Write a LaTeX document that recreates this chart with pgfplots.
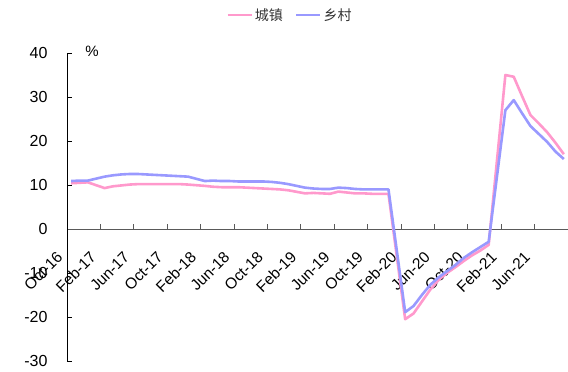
\documentclass[border=0pt]{standalone}
\usepackage{pgfplots}
\pgfplotsset{compat=1.18}
\usepackage{fontspec}
\setmainfont{Liberation Sans}
\newfontfamily\cjk{Noto Sans CJK SC}
\definecolor{pinkc}{HTML}{FF99CC}
\definecolor{bluec}{HTML}{9999FF}
\begin{document}
\begin{tikzpicture}
\begin{axis}[
 name=ax,
 scale only axis, width=501pt, height=308pt,
 xmin=-0.5, xmax=59.5, ymin=-30, ymax=40,
 axis y line=left, axis x line=middle,
 hide obscured x ticks=false, hide obscured y ticks=false,
 x axis line style={-, draw=black!65, line width=0.8pt},
 y axis line style={-, draw=black, line width=0.8pt},
 ytick={-30,-20,...,40},
 xtick={0,4,...,56},
 xticklabels={Oct-16,Feb-17,Jun-17,Oct-17,Feb-18,Jun-18,Oct-18,Feb-19,Jun-19,Oct-19,Feb-20,Jun-20,Oct-20,Feb-21,Jun-21},
 minor xtick={-0.5,3.5,...,59.5},
 major x tick style={draw=none},
 minor x tick style={draw=black!65, line width=0.8pt},
 y tick style={draw=black, line width=0.8pt},
 tick align=inside,
 major tick length=5pt, minor tick length=5pt,
 /pgf/number format/assume math mode=true,
 yticklabel style={font=\fontsize{16}{19}\selectfont, xshift=-16pt},
 xticklabel style={font=\fontsize{15.5}{18}\selectfont, xshift=-9pt, yshift=-23pt, rotate=45, anchor=east},
 legend style={at={(0.445,1.123)}, anchor=center, draw=none, fill=none, legend columns=2,
   font=\cjk\fontsize{14}{16}\selectfont, text=black!80,
   /tikz/every even column/.append style={column sep=10pt}},
 legend image code/.code={\draw[#1] (0pt,0pt) -- (24pt,0pt);},
 clip=false,
]
\addplot[pinkc, line width=2.6pt, line join=round] coordinates {
(0,10.4)(1,10.5)(2,10.6)(4,9.3)(5,9.7)(6,9.9)(7,10.1)(8,10.2)(9,10.2)(10,10.2)(11,10.2)(12,10.2)(13,10.2)(14,10.1)
(16,9.8)(17,9.6)(18,9.5)(19,9.5)(20,9.5)(21,9.4)(22,9.3)(23,9.2)(24,9.1)(25,9.0)(26,8.8)
(28,8.1)(29,8.2)(30,8.1)(31,8.0)(32,8.5)(33,8.3)(34,8.1)(35,8.1)(36,8.0)(37,8.0)(38,8.0)
(40,-20.5)(41,-19.2)(42,-16.5)(43,-13.8)(44,-11.6)(45,-10.0)(46,-8.7)(47,-7.3)(48,-6.0)(49,-4.9)(50,-3.6)
(52,35.0)(53,34.6)(54,30.2)(55,25.9)(56,24.0)(57,22.0)(58,19.6)(59,17.0)
};
\addlegendentry{城镇}
\addplot[bluec, line width=2.6pt, line join=round] coordinates {
(0,10.9)(1,11.0)(2,11.0)(4,11.9)(5,12.2)(6,12.4)(7,12.5)(8,12.5)(9,12.4)(10,12.3)(11,12.2)(12,12.1)(13,12.0)(14,11.9)
(16,10.9)(17,11.0)(18,10.9)(19,10.9)(20,10.8)(21,10.8)(22,10.8)(23,10.8)(24,10.7)(25,10.5)(26,10.2)
(28,9.4)(29,9.2)(30,9.1)(31,9.1)(32,9.4)(33,9.3)(34,9.1)(35,9.0)(36,9.0)(37,9.0)(38,9.0)
(40,-18.9)(41,-17.5)(42,-15.0)(43,-12.7)(44,-11.0)(45,-9.6)(46,-8.2)(47,-6.6)(48,-5.3)(49,-4.1)(50,-2.9)
(52,27.0)(53,29.3)(54,26.3)(55,23.4)(56,21.6)(57,19.8)(58,17.6)(59,15.9)
};
\addlegendentry{乡村}
\node[font=\fontsize{15}{18}\selectfont] at (axis description cs:0.05,1.005) {\%};
\end{axis}
\pgfresetboundingbox
\path[use as bounding box] ([xshift=-67pt,yshift=-10pt]ax.south west) rectangle ([yshift=53pt]ax.north east);
\end{tikzpicture}
\end{document}
